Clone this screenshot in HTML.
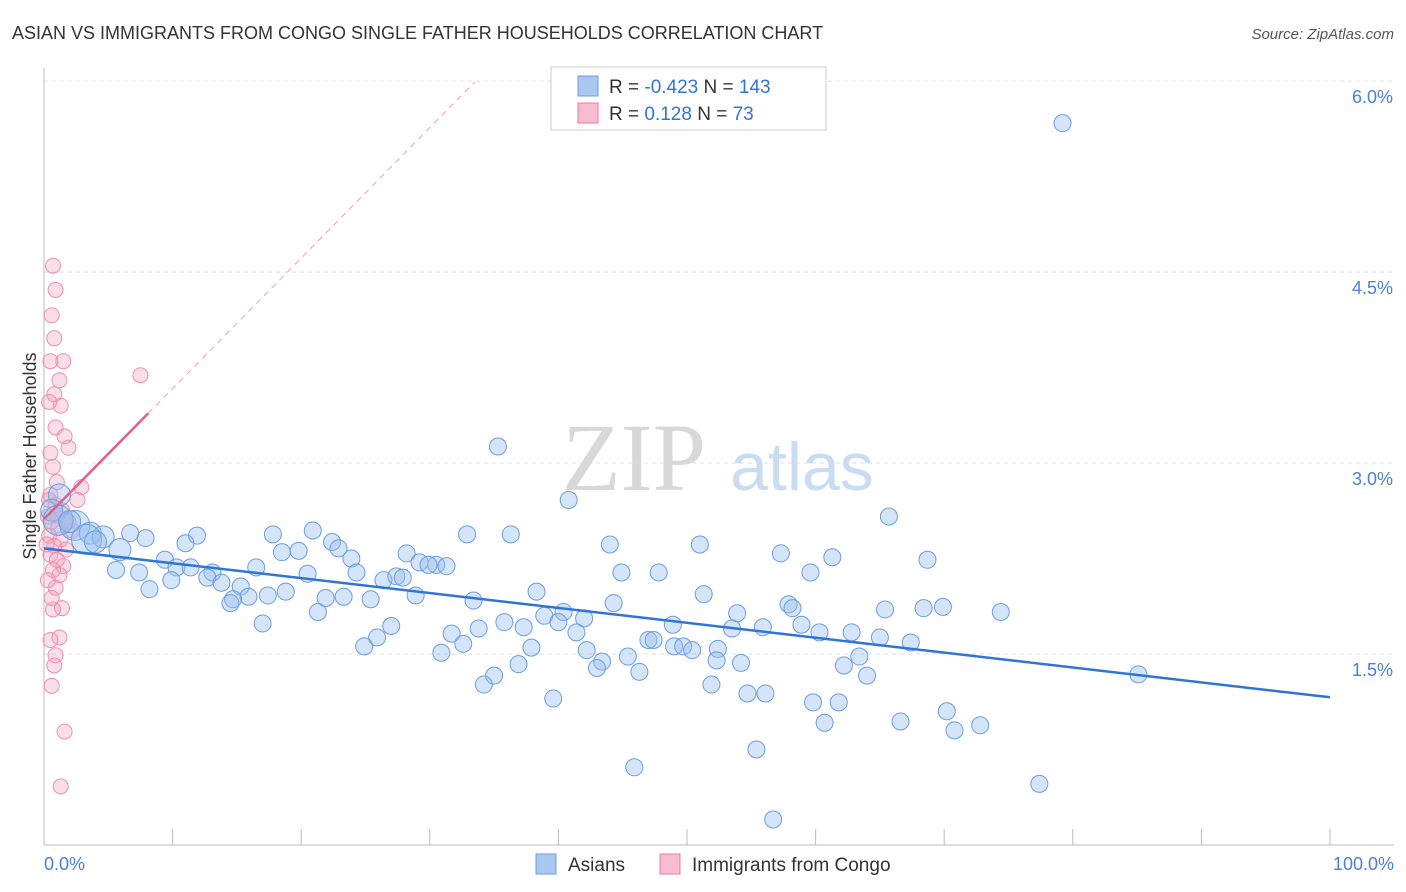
<!DOCTYPE html>
<html><head><meta charset="utf-8">
<style>
body{margin:0;background:#fff;font-family:"Liberation Sans",sans-serif;}
svg{display:block}
</style></head>
<body>
<svg id="chart" width="1406" height="892" xmlns="http://www.w3.org/2000/svg">
<text x="12" y="39" font-size="18" fill="#333">ASIAN VS IMMIGRANTS FROM CONGO SINGLE FATHER HOUSEHOLDS CORRELATION CHART</text>
<text x="1394" y="39" font-size="15" fill="#555" font-style="italic" text-anchor="end">Source: ZipAtlas.com</text>
<g>
<text x="634" y="490" font-family="Liberation Serif,serif" font-size="96" fill="#d8d8d8" text-anchor="middle">ZIP</text>
<text x="802" y="490" font-size="68" fill="#c8dcf2" text-anchor="middle">atlas</text>
</g>
<g id="grid"></g>
<g id="axes"></g>
<g id="pink"></g>
<g id="blue"></g>
<g id="lines"></g>
<text x="36" y="456" font-size="18" fill="#333" text-anchor="middle" transform="rotate(-90 36 456)">Single Father Households</text>
<g>
<rect x="551" y="67" width="275" height="63" fill="#fff" stroke="#ccc"/>
<rect x="578" y="76" width="20" height="20" fill="#a8c8f0" stroke="#6a9de0"/>
<rect x="578" y="103" width="20" height="20" fill="#f7bccf" stroke="#e87ca0"/>
<text x="609" y="93" font-size="19" fill="#333">R = <tspan fill="#2f74d9">-0.423</tspan>   N = <tspan fill="#2f74d9">143</tspan></text>
<text x="609" y="120" font-size="19" fill="#333">R =   <tspan fill="#2f74d9">0.128</tspan>   N =   <tspan fill="#2f74d9">73</tspan></text>
</g>
<g>
<rect x="536" y="854" width="20" height="20" fill="#a8c8f0" stroke="#6a9de0"/>
<text x="568" y="871" font-size="19" fill="#333">Asians</text>
<rect x="660" y="854" width="20" height="20" fill="#f7bccf" stroke="#e87ca0"/>
<text x="692" y="871" font-size="19" fill="#333">Immigrants from Congo</text>
</g>
</svg>
<script>
const yTicks=[1.5,3.0,4.5,6.0];
const yTickLabels=["1.5%","3.0%","4.5%","6.0%"];
const xTickLabels=["0.0%","100.0%"];
const blueX=[79.2,35.3,40.8,65.7,32.9,36.3,17.8,20.9,22.4,11.9,7.9,6.7,11.0,44.0,51.0,57.3,61.3,68.7,18.5,19.8,22.9,23.9,28.2,29.2,30.5,31.3,29.9,9.4,10.3,11.4,13.1,16.5,20.5,24.3,26.4,27.4,27.9,44.9,47.8,59.6,7.4,5.6,9.9,12.7,13.8,15.3,8.2,18.8,17.4,15.9,14.7,14.5,21.9,23.3,25.4,28.9,33.4,38.3,44.3,51.3,57.9,58.2,65.4,68.4,69.9,74.4,21.3,53.9,40.4,38.9,42.0,17.0,27.0,33.8,35.8,37.3,40.0,41.4,48.9,53.5,55.9,58.9,60.3,62.8,65.0,67.4,25.9,31.7,32.6,37.9,47.0,47.4,49.0,49.7,50.4,52.4,24.9,30.9,42.2,43.4,45.4,63.4,62.2,54.2,52.3,36.9,43.0,46.3,35.0,85.1,64.0,34.2,51.9,54.7,56.1,39.6,59.8,61.8,70.2,60.7,66.6,70.8,72.8,55.4,45.9,77.4,56.7,1.2,0.6,2.4,3.6,4.6,3.3,4.0,5.9,1.1,2.0];
const blueY=[5.67,3.13,2.71,2.58,2.44,2.44,2.44,2.47,2.38,2.43,2.41,2.45,2.37,2.36,2.36,2.29,2.26,2.24,2.30,2.31,2.33,2.25,2.29,2.22,2.20,2.19,2.20,2.24,2.18,2.18,2.14,2.18,2.13,2.14,2.08,2.11,2.10,2.14,2.14,2.14,2.14,2.16,2.08,2.10,2.06,2.03,2.01,1.99,1.96,1.95,1.93,1.90,1.94,1.95,1.93,1.96,1.92,1.99,1.90,1.97,1.89,1.86,1.85,1.86,1.87,1.83,1.83,1.82,1.83,1.80,1.78,1.74,1.72,1.70,1.75,1.71,1.75,1.67,1.73,1.70,1.71,1.73,1.67,1.67,1.63,1.59,1.63,1.66,1.58,1.55,1.61,1.61,1.56,1.56,1.53,1.54,1.56,1.51,1.53,1.44,1.48,1.48,1.41,1.43,1.45,1.42,1.39,1.36,1.33,1.34,1.33,1.26,1.26,1.19,1.19,1.15,1.12,1.12,1.05,0.96,0.97,0.90,0.94,0.75,0.61,0.48,0.20,2.75,2.63,2.51,2.45,2.42,2.40,2.38,2.32,2.55,2.54];
const pinkX=[0.7,0.9,0.6,0.8,1.5,0.5,1.2,7.5,0.8,1.3,0.4,0.9,1.6,1.9,0.5,0.7,2.9,1.0,2.6,0.5,0.9,1.4,0.3,1.7,0.6,1.1,2.2,0.4,1.3,0.8,1.7,0.5,1.0,1.5,0.7,1.2,0.3,0.9,1.4,0.7,1.2,0.5,0.9,0.8,0.6,1.6,1.3,0.4,1.0,1.9,0.2,0.6];
const pinkY=[4.55,4.36,4.16,3.98,3.80,3.80,3.65,3.69,3.54,3.45,3.48,3.28,3.21,3.12,3.08,2.97,2.81,2.85,2.71,2.75,2.67,2.63,2.58,2.55,2.54,2.49,2.47,2.43,2.40,2.35,2.32,2.28,2.24,2.19,2.16,2.12,2.08,2.02,1.86,1.85,1.63,1.61,1.49,1.41,1.25,0.89,0.46,2.71,2.59,2.54,2.36,1.94];
const blueTrend=[2.33,-0.0117];
const pinkTrend=[2.56,0.1025];
const pinkSolidEnd=8.1, pinkDashEnd=33.5;

const NS="http://www.w3.org/2000/svg";
const X0=44,X1=1330,YB=845;
function xs(v){return X0+(v/100)*(X1-X0);}
function ys(v){return 654-(v-1.5)*127.3;}
function mk(tag,attrs,parent){const e=document.createElementNS(NS,tag);for(const k in attrs)e.setAttribute(k,attrs[k]);parent.appendChild(e);return e;}
const grid=document.getElementById('grid'),axes=document.getElementById('axes');
yTicks.forEach((t,i)=>{
  const l=mk('line',{x1:X0,x2:1394,y1:ys(t),y2:ys(t),stroke:'#ddd','stroke-dasharray':'4,4'},grid);
  
  
  const tx=mk('text',{x:1393,y:ys(t)+22,'font-size':18,fill:'#4a80d8','text-anchor':'end'},axes);
  tx.textContent=yTickLabels[i];
  
  
});
let a=mk('line',{x1:X0,x2:X0,y1:68,y2:YB,stroke:'#bbb'},axes);


a=mk('line',{x1:X0,x2:1394,y1:YB,y2:YB,stroke:'#bbb'},axes);


for(let i=0;i<=10;i++){
  const t=mk('line',{x1:xs(i*10),x2:xs(i*10),y1:829,y2:YB,stroke:'#bbb'},axes);
  
  
}
let xl=mk('text',{x:44,y:870,'font-size':18,fill:'#4a80d8'},axes);xl.textContent=xTickLabels[0];


xl=mk('text',{x:1394,y:870,'font-size':18,fill:'#4a80d8','text-anchor':'end'},axes);xl.textContent=xTickLabels[1];



const pink=document.getElementById('pink'),blue=document.getElementById('blue');
pinkX.forEach((v,i)=>{
  const c=mk('circle',{cx:xs(v),cy:ys(pinkY[i]),r:7.5,fill:'rgba(244,160,190,0.35)',stroke:'#ec8fb0','stroke-width':1},pink);
  
  
});
blueX.forEach((v,i)=>{
  const big=i>=blueX.length-10;
  const c=mk('circle',{cx:xs(v),cy:ys(blueY[i]),r:big?(i%3===0?15:11):8.5,fill:'rgba(150,190,240,0.4)',stroke:'#6a9de0','stroke-width':1},blue);
  
  
});
const lines=document.getElementById('lines');
let l=mk('line',{x1:xs(0),y1:ys(blueTrend[0]),x2:xs(100),y2:ys(blueTrend[0]+blueTrend[1]*100),stroke:'#2f74d9','stroke-width':2.5},lines);


l=mk('line',{x1:xs(0),y1:ys(pinkTrend[0]),x2:xs(pinkSolidEnd),y2:ys(pinkTrend[0]+pinkTrend[1]*pinkSolidEnd),stroke:'#e0608a','stroke-width':2.5},lines);


l=mk('line',{x1:xs(pinkSolidEnd),y1:ys(pinkTrend[0]+pinkTrend[1]*pinkSolidEnd),x2:xs(pinkDashEnd),y2:ys(pinkTrend[0]+pinkTrend[1]*pinkDashEnd),stroke:'#e8a0b8','stroke-width':1,'stroke-dasharray':'6,5'},lines);


</script>
</body></html>
